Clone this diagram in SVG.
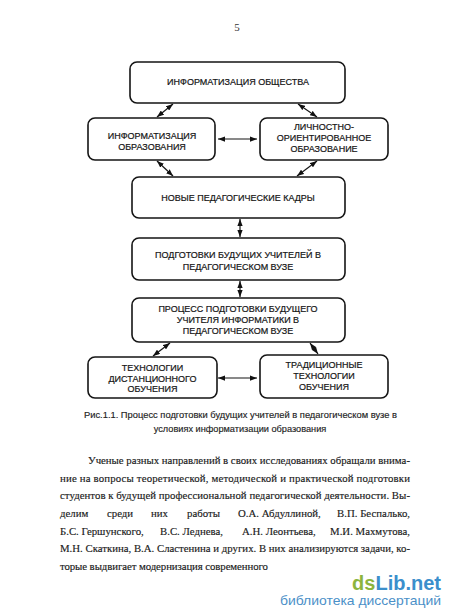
<svg xmlns="http://www.w3.org/2000/svg" width="450" height="615" viewBox="0 0 450 615">
<defs>
<marker id="ah" viewBox="0 0 8 6" refX="8" refY="3" markerWidth="7" markerHeight="5.5" markerUnits="userSpaceOnUse" orient="auto-start-reverse">
<path d="M0,0 L8,3 L0,6 z" fill="#111"/>
</marker>
<style>
.box{fill:#fff;stroke:#151515;stroke-width:1.6}
.bt{font-family:"Liberation Sans",Arial,sans-serif;font-size:9px;fill:#151515;stroke:#151515;stroke-width:0.2;text-anchor:middle}
.cap{font-family:"Liberation Sans",Arial,sans-serif;font-size:9.2px;fill:#222;stroke:#222;stroke-width:0.15}
.body{font-family:"Liberation Serif","Times New Roman",serif;font-size:10.8px;fill:#1a1a1a;stroke:#1a1a1a;stroke-width:0.15}
.con line{stroke:#151515;stroke-width:1.2;marker-start:url(#ah);marker-end:url(#ah)}
</style>
</defs>
<rect width="450" height="615" fill="#fff"/>
<text x="237" y="31" font-family="Liberation Serif,serif" font-size="11" fill="#333" text-anchor="middle">5</text>

<g class="con" id="connectors">
<line x1="173" y1="104" x2="157" y2="117"/>
<line x1="298" y1="104" x2="317" y2="117"/>
<line x1="218" y1="139" x2="257" y2="139"/>
<line x1="157" y1="161" x2="173" y2="176"/>
<line x1="317" y1="161" x2="297" y2="176"/>
<line x1="240" y1="219" x2="240" y2="237"/>
<line x1="240" y1="281" x2="240" y2="297"/>
<line x1="170" y1="343" x2="153" y2="356"/>
<line x1="310" y1="343" x2="318" y2="354"/>
<line x1="218" y1="378" x2="257" y2="378"/>
</g>

<g id="n1"><rect class="box" x="130" y="62" width="215" height="41" rx="7"/>
<text class="bt" x="238" y="85">ИНФОРМАТИЗАЦИЯ ОБЩЕСТВА</text></g>
<g id="n2"><rect class="box" x="88" y="118" width="127" height="42" rx="7"/>
<text class="bt" x="152" y="139">ИНФОРМАТИЗАЦИЯ</text>
<text class="bt" x="152" y="150">ОБРАЗОВАНИЯ</text></g>
<g id="n3"><rect class="box" x="260" y="118" width="128" height="42" rx="7"/>
<text class="bt" x="324" y="130">ЛИЧНОСТНО-</text>
<text class="bt" x="324" y="141">ОРИЕНТИРОВАННОЕ</text>
<text class="bt" x="324" y="151.5">ОБРАЗОВАНИЕ</text></g>
<g id="n4"><rect class="box" x="132" y="177" width="213" height="41" rx="7"/>
<text class="bt" x="238" y="201">НОВЫЕ ПЕДАГОГИЧЕСКИЕ КАДРЫ</text></g>
<g id="n5"><rect class="box" x="132" y="238" width="213" height="42" rx="7"/>
<text class="bt" x="238" y="258">ПОДГОТОВКИ БУДУЩИХ УЧИТЕЛЕЙ В</text>
<text class="bt" x="238" y="270">ПЕДАГОГИЧЕСКОМ ВУЗЕ</text></g>
<g id="n6"><rect class="box" x="132" y="298" width="213" height="44" rx="7"/>
<text class="bt" x="238" y="311.5">ПРОЦЕСС ПОДГОТОВКИ БУДУЩЕГО</text>
<text class="bt" x="238" y="322.5">УЧИТЕЛЯ ИНФОРМАТИКИ В</text>
<text class="bt" x="238" y="333.5">ПЕДАГОГИЧЕСКОМ ВУЗЕ</text></g>
<g id="n7"><rect class="box" x="88" y="357" width="129" height="41" rx="7"/>
<text class="bt" x="152.5" y="371">ТЕХНОЛОГИИ</text>
<text class="bt" x="152.5" y="381.5">ДИСТАНЦИОННОГО</text>
<text class="bt" x="152.5" y="392">ОБУЧЕНИЯ</text></g>
<g id="n8"><rect class="box" x="260" y="355" width="128" height="43" rx="7"/>
<text class="bt" x="324" y="368">ТРАДИЦИОННЫЕ</text>
<text class="bt" x="324" y="379">ТЕХНОЛОГИИ</text>
<text class="bt" x="324" y="390">ОБУЧЕНИЯ</text></g>

<text class="cap" x="84" y="418" textLength="313" lengthAdjust="spacingAndGlyphs">Рис.1.1. Процесс подготовки будущих учителей в педагогическом вузе в</text>
<text class="cap" x="240" y="432" text-anchor="middle">условиях информатизации образования</text>

<g class="body">
<text x="88" y="464" textLength="322" lengthAdjust="spacing">Ученые разных направлений в своих исследованиях обращали внима-</text>
<text x="60" y="482" textLength="350" lengthAdjust="spacing">ние на вопросы теоретической, методической и практической подготовки</text>
<text x="60" y="499" textLength="350" lengthAdjust="spacing">студентов к будущей профессиональной педагогической деятельности. Вы-</text>
<text y="517"><tspan x="60">делим</tspan><tspan x="107">среди</tspan><tspan x="151">них</tspan><tspan x="187">работы</tspan><tspan x="238">О.А. Абдуллиной,</tspan></text>
<text x="410" y="517" text-anchor="end">В.П. Беспалько,</text>
<text y="535"><tspan x="60">Б.С. Гершунского,</tspan><tspan x="160">В.С. Леднева,</tspan><tspan x="242">А.Н. Леонтьева,</tspan></text>
<text x="410" y="535" text-anchor="end">М.И. Махмутова,</text>
<text x="60" y="552" textLength="350" lengthAdjust="spacing">М.Н. Скаткина, В.А. Сластенина и других. В них анализируются задачи, ко-</text>
<text x="60" y="570" textLength="208" lengthAdjust="spacing">торые выдвигает модернизация современного</text>
</g>

<text x="441" y="590" font-family="Liberation Sans,Arial,sans-serif" font-size="20" font-weight="bold" text-anchor="end"><tspan fill="#8cb43c">ds</tspan><tspan fill="#3b8fcc">Lib.net</tspan></text>
<text x="280" y="605" font-family="Liberation Sans,Arial,sans-serif" font-size="13.5" fill="#4b90c8" textLength="161" lengthAdjust="spacingAndGlyphs">библиотека диссертаций</text>
</svg>
